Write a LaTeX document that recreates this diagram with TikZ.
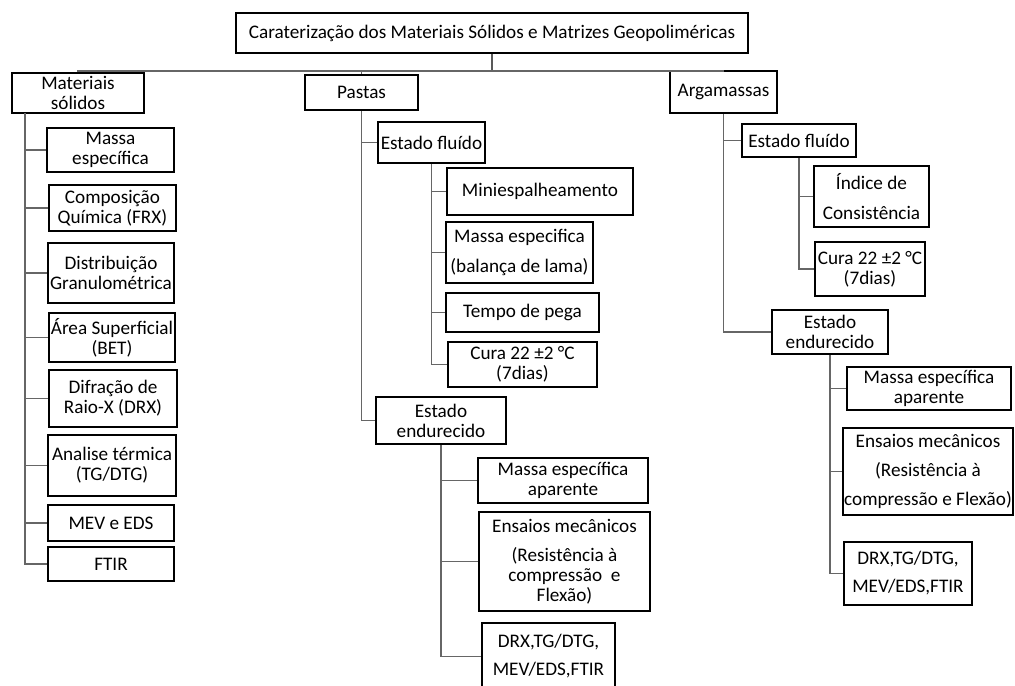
\documentclass[tikz,border=0pt]{standalone}
\usepackage{fontspec}
\setmainfont{Carlito}

\begin{document}
\begin{tikzpicture}[x=0.75pt, y=-0.75pt,
    font=\fontsize{14.4}{15}\selectfont,
    box/.style={draw, line width=1.5pt, inner sep=0pt, align=center},
    link/.style={draw=black!60, line width=1.1pt},
    trunk/.style={draw=black!65, line width=2pt}]
  \useasboundingbox (0,0) rectangle (1015,686);
  % boxes: name / centre x / centre y / width / height / text (pixel units)
  \foreach \nm/\cx/\cy/\bw/\bh/\txt in {%
      title/492/33/512/40/{Caraterização dos Materiais Sólidos e Matrizes Geopoliméricas},
      mat/78/93/132/40/{Materiais\\sólidos},
      pas/361.5/92.5/113/35/{Pastas},
      arg/723.5/92/107/42/{Argamassas},
      m1/110.5/150/127/44/{Massa\\específica},
      m2/112.5/208/127/46/{Composição\\Química (FRX)},
      m3/111/273/126/60/{Distribuição\\Granulométrica},
      m4/112/337.5/126/49/{Área Superficial\\(BET)},
      m5/113/398.5/128/57/{Difração de\\Raio-X (DRX)},
      m6/112/465.5/128/61/{Analise térmica\\(TG/DTG)},
      m7/111/523/126/36/{MEV e EDS},
      m8/111/564/126/34/{FTIR},
      pf/431.5/142.5/107/41/{Estado fluído},
      p1/540/191.5/186/47/{Miniespalheamento},
      p2/519.5/252.5/147/61/{Massa especifica\\[7pt](balança de lama)},
      p3/522.5/312.5/153/39/{Tempo de pega},
      p4/522.5/364.5/149/45/{Cura 22 ±2 °C\\(7dias)},
      pe/441/420.5/130/47/{Estado\\endurecido},
      p5/563/480.5/170/45/{Massa específica\\aparente},
      p6/564.5/561.5/171/99/{Ensaios mecânicos\\[7pt](Resistência à\\compressão \ e\\Flexão)},
      p7/548.5/656.5/133/67/{DRX,TG/DTG,\\[6pt]MEV/EDS,FTIR},
      af/799/140.5/114/33/{Estado fluído},
      a1/871.5/196.5/115/61/{Índice de\\[7pt]Consistência},
      a2/870/269/110/54/{Cura 22 ±2 °C\\(7dias)},
      ae/830/332/116/44/{Estado\\endurecido},
      a3/929/388.5/164/43/{Massa específica\\aparente},
      a4/928/471.5/170/87/{Ensaios mecânicos\\[6.5pt](Resistência à\\[6.5pt]compressão e Flexão)},
      a5/908/573.5/128/63/{DRX,TG/DTG,\\[6pt]MEV/EDS,FTIR}}
  {
    \node[box, minimum width={\bw*0.75pt}, minimum height={\bh*0.75pt}] (\nm) at (\cx,\cy) {\txt};
  }
  % top level bus
  \draw[trunk] (title.south) -- ++(0,17) coordinate (bus);
  \draw[link] (mat.north) |- (bus) -| (arg.north);
  \draw[link] (pas.north) -- (pas.north |- bus);
  % materiais solidos
  \coordinate (matsp) at (25,113);
  \foreach \c in {m1,m2,m3,m4,m5,m6,m7,m8}
    \draw[link] (matsp) |- (\c.west);
  % pastas
  \foreach \c in {pf,pe}
    \draw[link] (pas.south) |- (\c.west);
  \foreach \c in {p1,p2,p3,p4}
    \draw[link] (pf.south) |- (\c.west);
  \foreach \c in {p5,p6,p7}
    \draw[link] (pe.south) |- (\c.west);
  % argamassas
  \foreach \c in {af,ae}
    \draw[link] (arg.south) |- (\c.west);
  \foreach \c in {a1,a2}
    \draw[link] (af.south) |- (\c.west);
  \foreach \c in {a3,a4,a5}
    \draw[link] (ae.south) |- (\c.west);
\end{tikzpicture}
\end{document}
